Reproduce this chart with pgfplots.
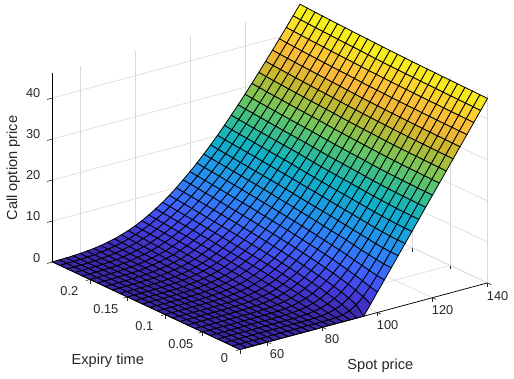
\documentclass[border=0pt]{standalone}
\usepackage{fontspec}
\setmainfont{Liberation Sans}
\usepackage{pgfplots}
\pgfplotsset{compat=1.18}
\definecolor{txt}{rgb}{0.15,0.15,0.15}
\begin{document}
\begin{tikzpicture}[x=1pt,y=1pt]
\useasboundingbox (0,0) rectangle (514,378);
\begin{axis}[
 at={(240pt,28.5pt)},anchor=origin,
 x={(2.75pt,0.74pt)},y={(-750pt,350pt)},z={(0pt,4.1pt)},
 xmin=50,xmax=140,ymin=0,ymax=0.25,zmin=0,zmax=46,
 xtick={60,80,100,120,140},ytick={0,0.05,0.1,0.15,0.2},ztick={0,10,20,30,40},
 yticklabels={0\kern-6pt,0.05,0.1,0.15,0.2},
 scaled y ticks=false,
 /pgf/number format/assume math mode=true,
 tick label style={font=\fontsize{12.8pt}{14pt}\selectfont,text=txt},
 xticklabel style={yshift=-1pt},
 yticklabel style={xshift=-9pt},
 zticklabel style={xshift=-5pt,yshift=2pt},
 label style={font=\fontsize{14.6pt}{16pt}\selectfont,text=txt},
 xlabel style={xshift=-11pt,yshift=-6pt},
 ylabel style={xshift=2pt,yshift=-2pt},
 zlabel style={yshift=-2pt,xshift=-4pt},
 grid=major,grid style={draw=black!15,line width=0.6pt},
 axis line style={draw=none},
 tick style={draw=txt,line width=0.6pt},
 z tick style={draw=none},
 tick pos=left,
 tick align=outside,
 major tick length=4pt,
 clip=false,
 xlabel={Spot price},ylabel={Expiry time},zlabel={Call option price},
 colormap={parula}{rgb(0pt)=(.2422,.1504,.6603); rgb(8pt)=(.2700,.2400,.8800); rgb(17pt)=(.2440,.4000,.9988); rgb(27pt)=(.1540,.5502,.9518); rgb(32pt)=(.1200,.6000,.9000); rgb(43pt)=(.0500,.7000,.7800); rgb(53pt)=(.2500,.7500,.5200); rgb(60pt)=(.4500,.7800,.3600); rgb(67pt)=(.6500,.7400,.2400); rgb(72pt)=(.8000,.7200,.1800); rgb(80pt)=(.9800,.7200,.2200); rgb(86pt)=(.9900,.7800,.2000); rgb(93pt)=(.9700,.9000,.1300); rgb(100pt)=(.9769,.9839,.0805)},
 point meta min=0,point meta max=46.6,
]
\addplot3[black,line width=0.7pt] coordinates {(50,.25,0) (50,.25,46)};
\addplot3[txt,line width=0.6pt] coordinates {(50,.25,0) (48,.25,0)};
\addplot3[txt,line width=0.6pt] coordinates {(50,.25,10) (48,.25,10)};
\addplot3[txt,line width=0.6pt] coordinates {(50,.25,20) (48,.25,20)};
\addplot3[txt,line width=0.6pt] coordinates {(50,.25,30) (48,.25,30)};
\addplot3[txt,line width=0.6pt] coordinates {(50,.25,40) (48,.25,40)};
\addplot3[surf,shader=faceted,faceted color=black,line width=0.8pt,z buffer=none,mesh/rows=26,mesh/cols=37,mesh/ordering=y varies] table {
140 .25 46.63
140 .24 46.51
140 .23 46.40
140 .22 46.31
140 .21 46.21
140 .20 46.12
140 .19 46.04
140 .18 45.96
140 .17 45.89
140 .16 45.82
140 .15 45.73
140 .14 45.64
140 .13 45.57
140 .12 45.52
140 .11 45.46
140 .10 45.41
140 .09 45.36
140 .08 45.31
140 .07 45.28
140 .06 45.23
140 .05 45.19
140 .04 45.15
140 .03 45.11
140 .02 45.08
140 .01 45.04
140 0 45
137.5 .25 44.25
137.5 .24 44.12
137.5 .23 44.01
137.5 .22 43.91
137.5 .21 43.81
137.5 .20 43.71
137.5 .19 43.62
137.5 .18 43.53
137.5 .17 43.46
137.5 .16 43.38
137.5 .15 43.27
137.5 .14 43.18
137.5 .13 43.10
137.5 .12 43.04
137.5 .11 42.98
137.5 .10 42.92
137.5 .09 42.87
137.5 .08 42.82
137.5 .07 42.78
137.5 .06 42.74
137.5 .05 42.69
137.5 .04 42.65
137.5 .03 42.61
137.5 .02 42.58
137.5 .01 42.54
137.5 0 42.5
135 .25 41.88
135 .24 41.74
135 .23 41.62
135 .22 41.51
135 .21 41.40
135 .20 41.30
135 .19 41.20
135 .18 41.10
135 .17 41.03
135 .16 40.94
135 .15 40.83
135 .14 40.73
135 .13 40.65
135 .12 40.58
135 .11 40.51
135 .10 40.45
135 .09 40.39
135 .08 40.33
135 .07 40.29
135 .06 40.24
135 .05 40.20
135 .04 40.15
135 .03 40.11
135 .02 40.08
135 .01 40.04
135 0 40
132.5 .25 39.54
132.5 .24 39.39
132.5 .23 39.27
132.5 .22 39.14
132.5 .21 39.02
132.5 .20 38.91
132.5 .19 38.80
132.5 .18 38.70
132.5 .17 38.61
132.5 .16 38.52
132.5 .15 38.40
132.5 .14 38.29
132.5 .13 38.19
132.5 .12 38.12
132.5 .11 38.04
132.5 .10 37.97
132.5 .09 37.91
132.5 .08 37.84
132.5 .07 37.80
132.5 .06 37.75
132.5 .05 37.70
132.5 .04 37.65
132.5 .03 37.61
132.5 .02 37.58
132.5 .01 37.54
132.5 0 37.5
130 .25 37.23
130 .24 37.07
130 .23 36.93
130 .22 36.81
130 .21 36.68
130 .20 36.56
130 .19 36.44
130 .18 36.33
130 .17 36.23
130 .16 36.13
130 .15 35.99
130 .14 35.87
130 .13 35.76
130 .12 35.67
130 .11 35.59
130 .10 35.51
130 .09 35.44
130 .08 35.36
130 .07 35.31
130 .06 35.25
130 .05 35.20
130 .04 35.15
130 .03 35.11
130 .02 35.08
130 .01 35.04
130 0 35
127.5 .25 34.95
127.5 .24 34.78
127.5 .23 34.63
127.5 .22 34.49
127.5 .21 34.35
127.5 .20 34.22
127.5 .19 34.09
127.5 .18 33.97
127.5 .17 33.86
127.5 .16 33.75
127.5 .15 33.60
127.5 .14 33.47
127.5 .13 33.35
127.5 .12 33.25
127.5 .11 33.16
127.5 .10 33.07
127.5 .09 32.99
127.5 .08 32.89
127.5 .07 32.83
127.5 .06 32.76
127.5 .05 32.71
127.5 .04 32.66
127.5 .03 32.61
127.5 .02 32.58
127.5 .01 32.54
127.5 0 32.5
125 .25 32.69
125 .24 32.52
125 .23 32.35
125 .22 32.21
125 .21 32.06
125 .20 31.91
125 .19 31.78
125 .18 31.65
125 .17 31.53
125 .16 31.41
125 .15 31.24
125 .14 31.10
125 .13 30.96
125 .12 30.85
125 .11 30.74
125 .10 30.64
125 .09 30.55
125 .08 30.42
125 .07 30.34
125 .06 30.27
125 .05 30.21
125 .04 30.16
125 .03 30.11
125 .02 30.08
125 .01 30.04
125 0 30
122.5 .25 30.46
122.5 .24 30.28
122.5 .23 30.11
122.5 .22 29.95
122.5 .21 29.80
122.5 .20 29.64
122.5 .19 29.49
122.5 .18 29.35
122.5 .17 29.22
122.5 .16 29.09
122.5 .15 28.91
122.5 .14 28.74
122.5 .13 28.59
122.5 .12 28.46
122.5 .11 28.34
122.5 .10 28.22
122.5 .09 28.12
122.5 .08 27.98
122.5 .07 27.88
122.5 .06 27.80
122.5 .05 27.73
122.5 .04 27.67
122.5 .03 27.62
122.5 .02 27.58
122.5 .01 27.54
122.5 0 27.5
120 .25 28.27
120 .24 28.08
120 .23 27.91
120 .22 27.74
120 .21 27.57
120 .20 27.39
120 .19 27.24
120 .18 27.09
120 .17 26.95
120 .16 26.81
120 .15 26.61
120 .14 26.43
120 .13 26.26
120 .12 26.12
120 .11 25.97
120 .10 25.85
120 .09 25.73
120 .08 25.55
120 .07 25.43
120 .06 25.33
120 .05 25.25
120 .04 25.18
120 .03 25.12
120 .02 25.08
120 .01 25.04
120 0 25
117.5 .25 26.14
117.5 .24 25.94
117.5 .23 25.75
117.5 .22 25.57
117.5 .21 25.38
117.5 .20 25.20
117.5 .19 25.03
117.5 .18 24.87
117.5 .17 24.72
117.5 .16 24.57
117.5 .15 24.35
117.5 .14 24.15
117.5 .13 23.97
117.5 .12 23.81
117.5 .11 23.65
117.5 .10 23.50
117.5 .09 23.37
117.5 .08 23.16
117.5 .07 23.02
117.5 .06 22.89
117.5 .05 22.79
117.5 .04 22.71
117.5 .03 22.63
117.5 .02 22.59
117.5 .01 22.54
117.5 0 22.5
115 .25 24.07
115 .24 23.85
115 .23 23.66
115 .22 23.46
115 .21 23.28
115 .20 23.09
115 .19 22.91
115 .18 22.73
115 .17 22.57
115 .16 22.40
115 .15 22.16
115 .14 21.94
115 .13 21.73
115 .12 21.55
115 .11 21.37
115 .10 21.21
115 .09 21.05
115 .08 20.88
115 .07 20.70
115 .06 20.54
115 .05 20.39
115 .04 20.26
115 .03 20.15
115 .02 20.09
115 .01 20.04
115 0 20
112.5 .25 22.04
112.5 .24 21.81
112.5 .23 21.60
112.5 .22 21.41
112.5 .21 21.22
112.5 .20 21.02
112.5 .19 20.83
112.5 .18 20.63
112.5 .17 20.46
112.5 .16 20.28
112.5 .15 20.02
112.5 .14 19.79
112.5 .13 19.56
112.5 .12 19.36
112.5 .11 19.16
112.5 .10 18.97
112.5 .09 18.80
112.5 .08 18.59
112.5 .07 18.39
112.5 .06 18.20
112.5 .05 18.01
112.5 .04 17.83
112.5 .03 17.69
112.5 .02 17.60
112.5 .01 17.54
112.5 0 17.5
110 .25 20.06
110 .24 19.83
110 .23 19.63
110 .22 19.44
110 .21 19.25
110 .20 19.07
110 .19 18.84
110 .18 18.62
110 .17 18.43
110 .16 18.23
110 .15 18.00
110 .14 17.76
110 .13 17.53
110 .12 17.32
110 .11 17.09
110 .10 16.85
110 .09 16.61
110 .08 16.37
110 .07 16.14
110 .06 15.91
110 .05 15.68
110 .04 15.46
110 .03 15.27
110 .02 15.13
110 .01 15.04
110 0 15
107.5 .25 18.18
107.5 .24 17.94
107.5 .23 17.72
107.5 .22 17.51
107.5 .21 17.29
107.5 .20 17.07
107.5 .19 16.85
107.5 .18 16.64
107.5 .17 16.45
107.5 .16 16.25
107.5 .15 15.97
107.5 .14 15.70
107.5 .13 15.44
107.5 .12 15.20
107.5 .11 14.96
107.5 .10 14.73
107.5 .09 14.51
107.5 .08 14.24
107.5 .07 13.97
107.5 .06 13.71
107.5 .05 13.42
107.5 .04 13.15
107.5 .03 12.90
107.5 .02 12.69
107.5 .01 12.55
107.5 0 12.5
105 .25 16.38
105 .24 16.17
105 .23 15.96
105 .22 15.76
105 .21 15.54
105 .20 15.32
105 .19 15.09
105 .18 14.86
105 .17 14.63
105 .16 14.39
105 .15 14.11
105 .14 13.88
105 .13 13.62
105 .12 13.36
105 .11 13.09
105 .10 12.80
105 .09 12.52
105 .08 12.21
105 .07 11.96
105 .06 11.65
105 .05 11.30
105 .04 10.95
105 .03 10.63
105 .02 10.33
105 .01 10.08
105 0 10
102.5 .25 14.64
102.5 .24 14.42
102.5 .23 14.21
102.5 .22 14.00
102.5 .21 13.77
102.5 .20 13.54
102.5 .19 13.31
102.5 .18 13.07
102.5 .17 12.83
102.5 .16 12.58
102.5 .15 12.33
102.5 .14 12.07
102.5 .13 11.80
102.5 .12 11.53
102.5 .11 11.25
102.5 .10 10.95
102.5 .09 10.64
102.5 .08 10.33
102.5 .07 10.02
102.5 .06 9.67
102.5 .05 9.30
102.5 .04 8.89
102.5 .03 8.48
102.5 .02 8.07
102.5 .01 7.68
102.5 0 7.5
100 .25 12.99
100 .24 12.77
100 .23 12.56
100 .22 12.34
100 .21 12.12
100 .20 11.89
100 .19 11.65
100 .18 11.41
100 .17 11.17
100 .16 10.92
100 .15 10.65
100 .14 10.39
100 .13 10.11
100 .12 9.83
100 .11 9.53
100 .10 9.22
100 .09 8.89
100 .08 8.56
100 .07 8.22
100 .06 7.85
100 .05 7.44
100 .04 7.00
100 .03 6.53
100 .02 6.01
100 .01 5.42
100 0 5
97.5 .25 11.47
97.5 .24 11.25
97.5 .23 11.02
97.5 .22 10.80
97.5 .21 10.57
97.5 .20 10.33
97.5 .19 10.08
97.5 .18 9.84
97.5 .17 9.59
97.5 .16 9.33
97.5 .15 9.06
97.5 .14 8.79
97.5 .13 8.50
97.5 .12 8.22
97.5 .11 7.92
97.5 .10 7.59
97.5 .09 7.26
97.5 .08 6.92
97.5 .07 6.56
97.5 .06 6.18
97.5 .05 5.76
97.5 .04 5.30
97.5 .03 4.79
97.5 .02 4.19
97.5 .01 3.45
97.5 0 2.5
95 .25 9.96
95 .24 9.74
95 .23 9.53
95 .22 9.31
95 .21 9.08
95 .20 8.85
95 .19 8.62
95 .18 8.38
95 .17 8.13
95 .16 7.88
95 .15 7.63
95 .14 7.36
95 .13 7.08
95 .12 6.79
95 .11 6.49
95 .10 6.18
95 .09 5.86
95 .08 5.51
95 .07 5.14
95 .06 4.75
95 .05 4.34
95 .04 3.87
95 .03 3.34
95 .02 2.72
95 .01 1.92
95 0 0
92.5 .25 8.57
92.5 .24 8.36
92.5 .23 8.15
92.5 .22 7.93
92.5 .21 7.71
92.5 .20 7.49
92.5 .19 7.25
92.5 .18 7.02
92.5 .17 6.77
92.5 .16 6.52
92.5 .15 6.27
92.5 .14 6.02
92.5 .13 5.76
92.5 .12 5.48
92.5 .11 5.19
92.5 .10 4.89
92.5 .09 4.58
92.5 .08 4.25
92.5 .07 3.91
92.5 .06 3.54
92.5 .05 3.13
92.5 .04 2.68
92.5 .03 2.17
92.5 .02 1.60
92.5 .01 .88
92.5 0 0
90 .25 7.33
90 .24 7.13
90 .23 6.93
90 .22 6.72
90 .21 6.51
90 .20 6.30
90 .19 6.07
90 .18 5.84
90 .17 5.61
90 .16 5.37
90 .15 5.13
90 .14 4.89
90 .13 4.64
90 .12 4.38
90 .11 4.10
90 .10 3.82
90 .09 3.52
90 .08 3.22
90 .07 2.90
90 .06 2.55
90 .05 2.17
90 .04 1.76
90 .03 1.33
90 .02 .86
90 .01 .33
90 0 0
87.5 .25 6.19
87.5 .24 6.00
87.5 .23 5.81
87.5 .22 5.61
87.5 .21 5.41
87.5 .20 5.20
87.5 .19 4.99
87.5 .18 4.77
87.5 .17 4.55
87.5 .16 4.32
87.5 .15 4.10
87.5 .14 3.88
87.5 .13 3.65
87.5 .12 3.41
87.5 .11 3.16
87.5 .10 2.90
87.5 .09 2.62
87.5 .08 2.33
87.5 .07 2.04
87.5 .06 1.74
87.5 .05 1.42
87.5 .04 1.09
87.5 .03 .75
87.5 .02 .40
87.5 .01 .10
87.5 0 0
85 .25 5.15
85 .24 4.97
85 .23 4.80
85 .22 4.61
85 .21 4.43
85 .20 4.24
85 .19 4.04
85 .18 3.84
85 .17 3.63
85 .16 3.42
85 .15 3.22
85 .14 3.02
85 .13 2.81
85 .12 2.59
85 .11 2.37
85 .10 2.13
85 .09 1.88
85 .08 1.63
85 .07 1.38
85 .06 1.13
85 .05 .87
85 .04 .63
85 .03 .38
85 .02 .16
85 .01 .02
85 0 0
82.5 .25 4.21
82.5 .24 4.05
82.5 .23 3.89
82.5 .22 3.72
82.5 .21 3.55
82.5 .20 3.38
82.5 .19 3.20
82.5 .18 3.02
82.5 .17 2.83
82.5 .16 2.64
82.5 .15 2.47
82.5 .14 2.29
82.5 .13 2.11
82.5 .12 1.92
82.5 .11 1.72
82.5 .10 1.52
82.5 .09 1.30
82.5 .08 1.09
82.5 .07 .90
82.5 .06 .69
82.5 .05 .51
82.5 .04 .33
82.5 .03 .17
82.5 .02 .06
82.5 .01 0
82.5 0 0
80 .25 3.39
80 .24 3.25
80 .23 3.10
80 .22 2.95
80 .21 2.80
80 .20 2.65
80 .19 2.48
80 .18 2.32
80 .17 2.15
80 .16 1.98
80 .15 1.84
80 .14 1.69
80 .13 1.54
80 .12 1.38
80 .11 1.21
80 .10 1.04
80 .09 .86
80 .08 .70
80 .07 .55
80 .06 .41
80 .05 .27
80 .04 .16
80 .03 .07
80 .02 .02
80 .01 0
80 0 0
77.5 .25 2.69
77.5 .24 2.56
77.5 .23 2.44
77.5 .22 2.31
77.5 .21 2.18
77.5 .20 2.04
77.5 .19 1.90
77.5 .18 1.76
77.5 .17 1.61
77.5 .16 1.46
77.5 .15 1.34
77.5 .14 1.23
77.5 .13 1.10
77.5 .12 .97
77.5 .11 .84
77.5 .10 .70
77.5 .09 .55
77.5 .08 .42
77.5 .07 .32
77.5 .06 .22
77.5 .05 .13
77.5 .04 .07
77.5 .03 .02
77.5 .02 0
77.5 .01 0
77.5 0 0
75 .25 2.10
75 .24 1.99
75 .23 1.89
75 .22 1.78
75 .21 1.66
75 .20 1.55
75 .19 1.43
75 .18 1.30
75 .17 1.18
75 .16 1.05
75 .15 .96
75 .14 .86
75 .13 .76
75 .12 .66
75 .11 .55
75 .10 .44
75 .09 .33
75 .08 .24
75 .07 .18
75 .06 .11
75 .05 .06
75 .04 .03
75 .03 .01
75 .02 0
75 .01 0
75 0 0
72.5 .25 1.59
72.5 .24 1.50
72.5 .23 1.41
72.5 .22 1.32
72.5 .21 1.23
72.5 .20 1.14
72.5 .19 1.04
72.5 .18 .94
72.5 .17 .84
72.5 .16 .73
72.5 .15 .66
72.5 .14 .59
72.5 .13 .52
72.5 .12 .44
72.5 .11 .36
72.5 .10 .28
72.5 .09 .19
72.5 .08 .13
72.5 .07 .09
72.5 .06 .05
72.5 .05 .03
72.5 .04 .01
72.5 .03 0
72.5 .02 0
72.5 .01 0
72.5 0 0
70 .25 1.19
70 .24 1.12
70 .23 1.05
70 .22 .97
70 .21 .90
70 .20 .82
70 .19 .74
70 .18 .66
70 .17 .58
70 .16 .49
70 .15 .43
70 .14 .37
70 .13 .31
70 .12 .25
70 .11 .19
70 .10 .14
70 .09 .10
70 .08 .07
70 .07 .04
70 .06 .02
70 .05 .01
70 .04 0
70 .03 0
70 .02 0
70 .01 0
70 0 0
67.5 .25 .86
67.5 .24 .78
67.5 .23 .70
67.5 .22 .62
67.5 .21 .56
67.5 .20 .50
67.5 .19 .45
67.5 .18 .40
67.5 .17 .35
67.5 .16 .31
67.5 .15 .25
67.5 .14 .19
67.5 .13 .15
67.5 .12 .12
67.5 .11 .09
67.5 .10 .07
67.5 .09 .05
67.5 .08 .03
67.5 .07 .02
67.5 .06 .01
67.5 .05 0
67.5 .04 0
67.5 .03 0
67.5 .02 0
67.5 .01 0
67.5 0 0
65 .25 .60
65 .24 .53
65 .23 .47
65 .22 .42
65 .21 .37
65 .20 .33
65 .19 .29
65 .18 .25
65 .17 .22
65 .16 .19
65 .15 .14
65 .14 .11
65 .13 .08
65 .12 .06
65 .11 .04
65 .10 .03
65 .09 .02
65 .08 .01
65 .07 .01
65 .06 0
65 .05 0
65 .04 0
65 .03 0
65 .02 0
65 .01 0
65 0 0
62.5 .25 .41
62.5 .24 .36
62.5 .23 .31
62.5 .22 .27
62.5 .21 .24
62.5 .20 .21
62.5 .19 .18
62.5 .18 .15
62.5 .17 .13
62.5 .16 .11
62.5 .15 .08
62.5 .14 .06
62.5 .13 .04
62.5 .12 .03
62.5 .11 .02
62.5 .10 .01
62.5 .09 .01
62.5 .08 0
62.5 .07 0
62.5 .06 0
62.5 .05 0
62.5 .04 0
62.5 .03 0
62.5 .02 0
62.5 .01 0
62.5 0 0
60 .25 .27
60 .24 .23
60 .23 .20
60 .22 .17
60 .21 .14
60 .20 .12
60 .19 .10
60 .18 .09
60 .17 .07
60 .16 .06
60 .15 .04
60 .14 .03
60 .13 .02
60 .12 .01
60 .11 .01
60 .10 .01
60 .09 0
60 .08 0
60 .07 0
60 .06 0
60 .05 0
60 .04 0
60 .03 0
60 .02 0
60 .01 0
60 0 0
57.5 .25 .17
57.5 .24 .14
57.5 .23 .12
57.5 .22 .10
57.5 .21 .09
57.5 .20 .07
57.5 .19 .06
57.5 .18 .05
57.5 .17 .04
57.5 .16 .03
57.5 .15 .02
57.5 .14 .01
57.5 .13 .01
57.5 .12 .01
57.5 .11 0
57.5 .10 0
57.5 .09 0
57.5 .08 0
57.5 .07 0
57.5 .06 0
57.5 .05 0
57.5 .04 0
57.5 .03 0
57.5 .02 0
57.5 .01 0
57.5 0 0
55 .25 .10
55 .24 .08
55 .23 .07
55 .22 .06
55 .21 .05
55 .20 .04
55 .19 .03
55 .18 .03
55 .17 .02
55 .16 .02
55 .15 .01
55 .14 .01
55 .13 0
55 .12 0
55 .11 0
55 .10 0
55 .09 0
55 .08 0
55 .07 0
55 .06 0
55 .05 0
55 .04 0
55 .03 0
55 .02 0
55 .01 0
55 0 0
52.5 .25 .06
52.5 .24 .05
52.5 .23 .04
52.5 .22 .03
52.5 .21 .03
52.5 .20 .02
52.5 .19 .02
52.5 .18 .01
52.5 .17 .01
52.5 .16 .01
52.5 .15 0
52.5 .14 0
52.5 .13 0
52.5 .12 0
52.5 .11 0
52.5 .10 0
52.5 .09 0
52.5 .08 0
52.5 .07 0
52.5 .06 0
52.5 .05 0
52.5 .04 0
52.5 .03 0
52.5 .02 0
52.5 .01 0
52.5 0 0
50 .25 .03
50 .24 .03
50 .23 .02
50 .22 .02
50 .21 .01
50 .20 .01
50 .19 .01
50 .18 0
50 .17 0
50 .16 0
50 .15 0
50 .14 0
50 .13 0
50 .12 0
50 .11 0
50 .10 0
50 .09 0
50 .08 0
50 .07 0
50 .06 0
50 .05 0
50 .04 0
50 .03 0
50 .02 0
50 .01 0
50 0 0
};
\addplot3[black,line width=0.7pt] coordinates {(50,0,0) (50,.25,0)};
\addplot3[black,line width=0.7pt] coordinates {(50,0,0) (140,0,0)};
\end{axis}
\end{tikzpicture}
\end{document}
